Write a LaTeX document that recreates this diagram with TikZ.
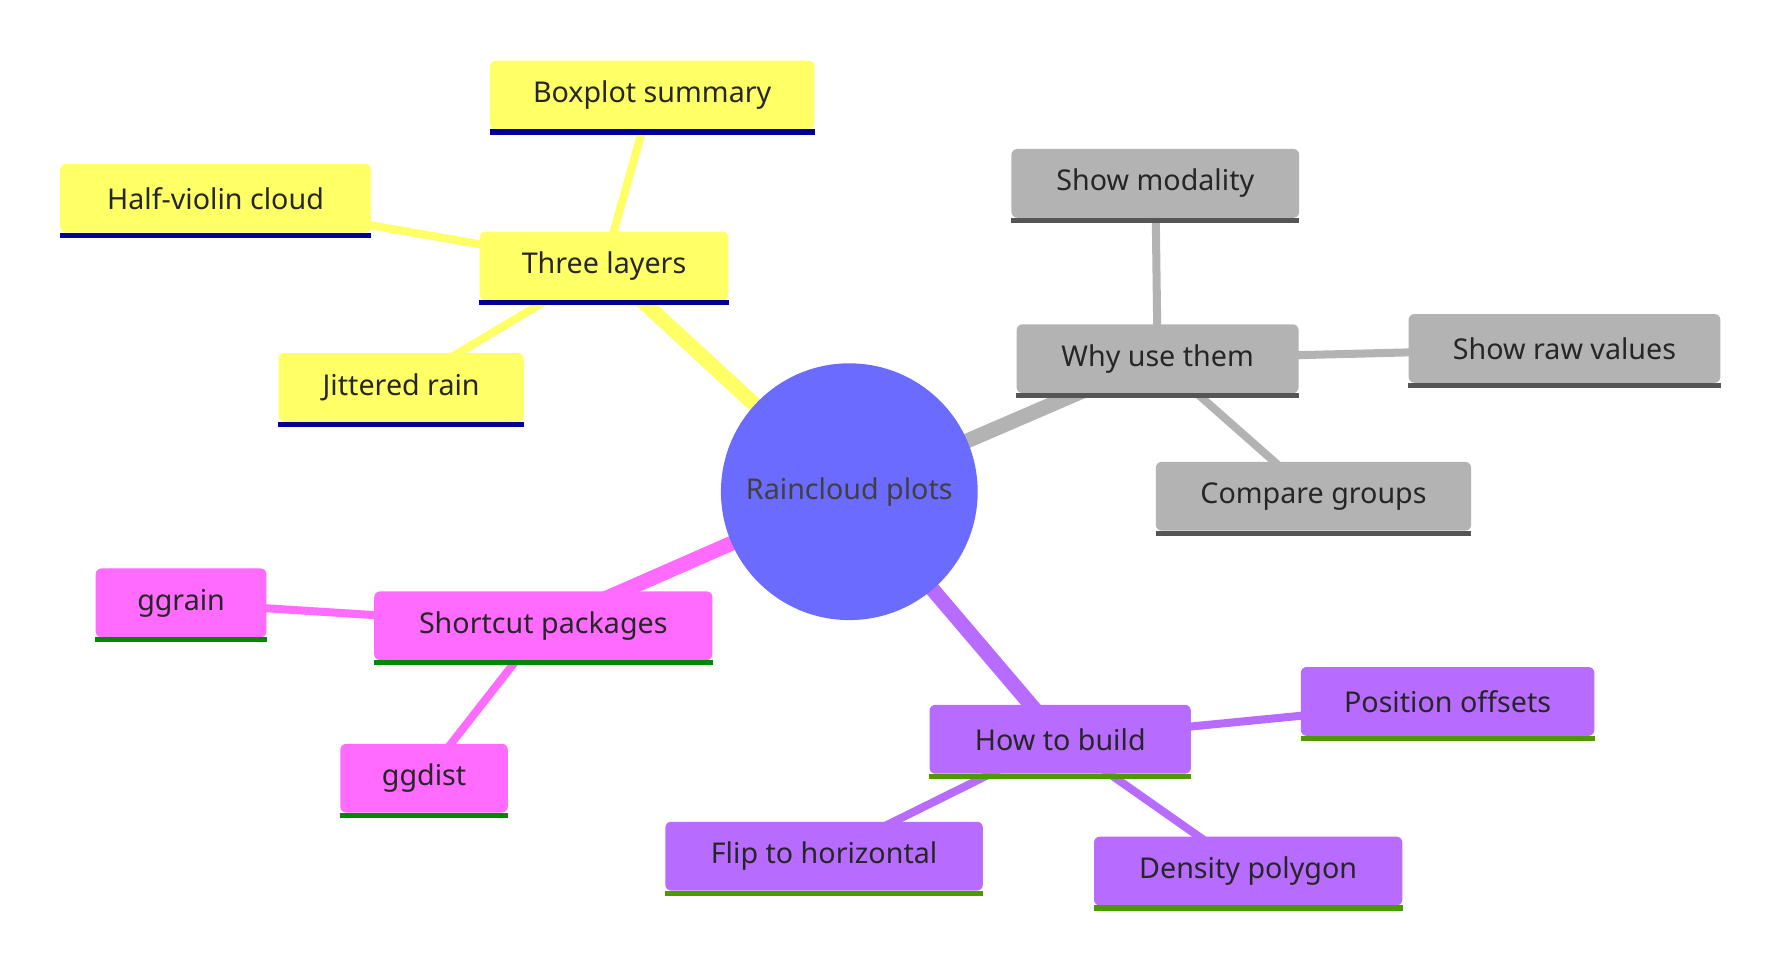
\documentclass[tikz,border=0pt]{standalone}
\usepackage{fontspec}
\setmainfont{Noto Sans}
\begin{document}
\begin{tikzpicture}[x=1pt,y=-1pt,
  box/.style={fill=#1,rounded corners=5pt,inner sep=0pt,minimum height=60pt,font=\fontsize{25}{30}\selectfont,text=black!85},
  main/.style={line width=13pt,draw=#1},
  sub/.style={line width=7pt,draw=#1},
  bl/.style={line width=4.5pt,draw=#1}]
\useasboundingbox (0,0) rectangle (1560,845);
\definecolor{cy}{HTML}{FFFF66}\definecolor{cg}{HTML}{B3B3B3}
\definecolor{cp}{HTML}{FF6BFF}\definecolor{cv}{HTML}{B76BFF}
\definecolor{cc}{HTML}{6B6BFF}
\definecolor{ly}{HTML}{000099}\definecolor{lg}{HTML}{555555}
\definecolor{lp}{HTML}{008800}\definecolor{lv}{HTML}{4C9900}
\coordinate (c) at (741,429);
% coordinates for nodes
\coordinate (tl) at (527,232);\coordinate (bs) at (569,83);\coordinate (hv) at (188,173);\coordinate (jr) at (350,338);
\coordinate (wu) at (1010,313);\coordinate (sm) at (1008,160);\coordinate (sr) at (1365,304);\coordinate (cgp) at (1146,433);
\coordinate (sp) at (474,546);\coordinate (gr) at (158,526);\coordinate (gd) at (370,679);
\coordinate (hb) at (925,645);\coordinate (po) at (1263,612);\coordinate (fh) at (719,747);\coordinate (dp) at (1089,760);
% edges
\draw[main=cy] (c)--(tl); \draw[sub=cy] (tl)--(bs); \draw[sub=cy] (tl)--(hv); \draw[sub=cy] (tl)--(jr);
\draw[main=cg] (c)--(wu); \draw[sub=cg] (wu)--(sm); \draw[sub=cg] (wu)--(sr); \draw[sub=cg] (wu)--(cgp);
\draw[main=cp] (c)--(sp); \draw[sub=cp] (sp)--(gr); \draw[sub=cp] (sp)--(gd);
\draw[main=cv] (c)--(hb); \draw[sub=cv] (hb)--(po); \draw[sub=cv] (hb)--(fh); \draw[sub=cv] (hb)--(dp);
% center
\node[circle,fill=cc,minimum size=224pt,inner sep=0pt,font=\fontsize{25}{30}\selectfont,text=black!75] (C) at (c) {Raincloud plots};
% boxes
\foreach \p/\w/\t/\f/\l in {
 tl/217/Three layers/cy/ly, bs/283/Boxplot summary/cy/ly, hv/271/Half-violin cloud/cy/ly, jr/214/Jittered rain/cy/ly,
 wu/246/Why use them/cg/lg, sm/251/Show modality/cg/lg, sr/272/Show raw values/cg/lg, cgp/275/Compare groups/cg/lg,
 sp/295/Shortcut packages/cp/lp, gr/149/ggrain/cp/lp, gd/146/ggdist/cp/lp,
 hb/228/How to build/cv/lv, po/256/Position offsets/cv/lv, fh/277/Flip to horizontal/cv/lv, dp/269/Density polygon/cv/lv}{
 \node[box=\f,minimum width=\w pt] (n\p) at (\p) {\t};
 \draw[bl=\l] ([yshift=-2pt]n\p.south west)--([yshift=-2pt]n\p.south east);
}
\end{tikzpicture}
\end{document}
